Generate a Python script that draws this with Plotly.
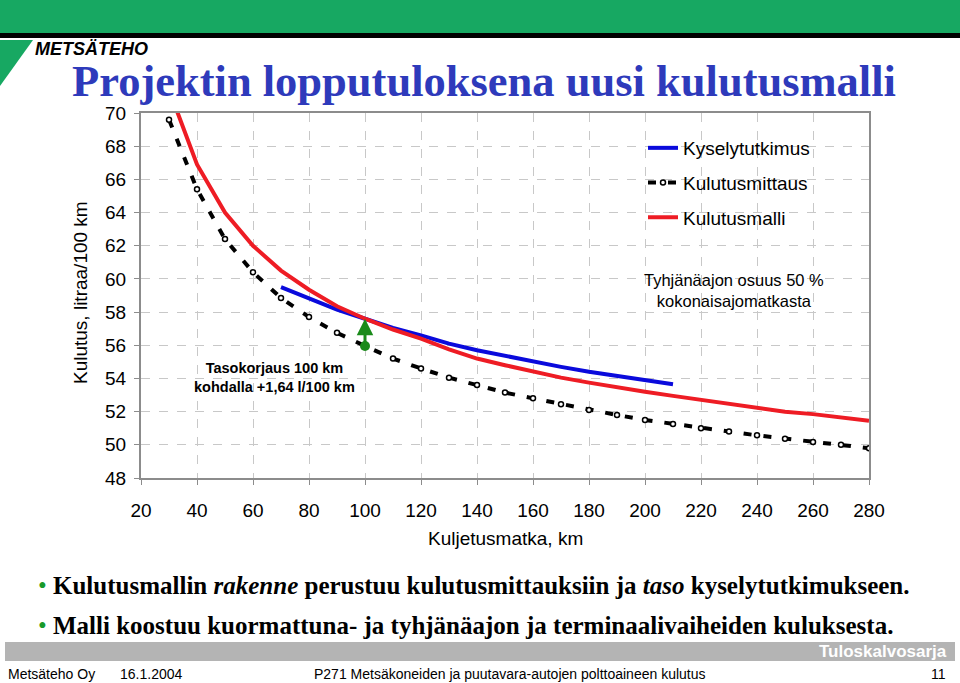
import plotly.graph_objects as go

# Kuljetusmatka (km) and fuel consumption (l/100 km)
survey_km = [70, 80, 90, 100, 110, 120, 130, 140, 150, 160, 170, 180, 190, 200, 210]
survey_l = [59.5, 58.8, 58.15, 57.6, 57.05, 56.6, 56.1, 55.7, 55.35, 55.05, 54.7, 54.4, 54.15, 53.9, 53.65]

measured_km = [20, 30, 40, 50, 60, 70, 80, 90, 100, 110, 120, 130, 140, 150, 160, 170, 180,
               190, 200, 210, 220, 230, 240, 250, 260, 270, 280]
measured_l = [81.5, 69.6, 65.4, 62.4, 60.4, 58.85, 57.7, 56.75, 55.96, 55.2, 54.6, 54.05, 53.6,
              53.15, 52.8, 52.45, 52.1, 51.8, 51.5, 51.25, 51.0, 50.8, 50.57, 50.37, 50.17, 50.0, 49.8]

model_km = [30, 40, 50, 60, 70, 80, 90, 100, 110, 120, 130, 140, 150, 160, 170, 180, 190,
            200, 210, 220, 230, 240, 250, 260, 270, 280]
model_l = [71.4, 66.9, 64.0, 62.0, 60.5, 59.35, 58.35, 57.6, 56.95, 56.4, 55.75, 55.2, 54.8,
           54.4, 54.05, 53.75, 53.45, 53.2, 52.95, 52.7, 52.45, 52.2, 52.0, 51.85, 51.65, 51.45]

x_ticks = list(range(20, 281, 20))
y_ticks = list(range(48, 71, 2))

# level correction at 100 km
corr_km = 100
corr_from = measured_l[measured_km.index(corr_km)]
corr_to = model_l[model_km.index(corr_km)]

W, H = 960, 683
L, R, T, B = 141, 869, 113, 478


def px_x(x):
    return (x - L) / (R - L)


def px_y(y):
    return (B - y) / (B - T)


fig = go.Figure()

fig.add_trace(go.Scatter(
    x=survey_km, y=survey_l, mode="lines", name="Kyselytutkimus",
    line=dict(color="#0a0adc", width=4), legendgroup="a",
))
fig.add_trace(go.Scatter(
    x=measured_km, y=measured_l, mode="lines+markers", name="Kulutusmittaus",
    line=dict(color="black", width=4, dash="8px,12px"),
    marker=dict(symbol="circle", size=5, color="white", line=dict(color="black", width=1.5)),
    legendgroup="b",
))
fig.add_trace(go.Scatter(
    x=model_km, y=model_l, mode="lines", name="Kulutusmalli",
    line=dict(color="#ee1c24", width=4), legendgroup="c",
))
fig.add_trace(go.Scatter(
    x=[corr_km], y=[corr_from], mode="markers", showlegend=False,
    marker=dict(color="#1a8a1a", size=10),
))

axis_font = dict(family="Liberation Sans, Arial, sans-serif", size=19, color="black")

fig.update_xaxes(
    range=[20, 280], tickvals=x_ticks, showgrid=True, gridcolor="#c8c8c8", griddash="dash",
    gridwidth=1, showline=True, linecolor="#8c8c8c", linewidth=2, mirror=True,
    ticks="outside", ticklen=5, tickcolor="#8c8c8c", tickfont=axis_font,
    ticklabelstandoff=9, zeroline=False,
)
fig.update_yaxes(
    range=[48, 70], tickvals=y_ticks, showgrid=True, gridcolor="#c8c8c8", griddash="dash",
    gridwidth=1, showline=True, linecolor="#8c8c8c", linewidth=2, mirror=True,
    ticks="outside", ticklen=5, tickcolor="#8c8c8c", tickfont=axis_font,
    ticklabelstandoff=4, zeroline=False,
)

serif = "Liberation Serif, Times New Roman, serif"
sans = "Liberation Sans, Arial, sans-serif"
narrow = "Liberation Sans Narrow, Liberation Sans, Arial"

annotations = [
    # axis titles
    dict(x=px_x(505), y=px_y(538), text="Kuljetusmatka, km", font=axis_font),
    dict(x=px_x(80), y=px_y(293), text="Kulutus, litraa/100 km", textangle=-90, font=axis_font),
    # notes
    dict(x=px_x(734), y=px_y(290), text="Tyhjänäajon osuus 50 %<br>kokonaisajomatkasta",
         font=dict(family=sans, size=16.5, color="black")),
    dict(x=px_x(274), y=px_y(377), text="<b>Tasokorjaus 100 km<br>kohdalla +1,64 l/100 km</b>",
         font=dict(family=sans, size=14.5, color="black")),
    # title
    dict(x=px_x(484), y=px_y(81), text="<b>Projektin lopputuloksena uusi kulutusmalli</b>",
         font=dict(family=serif, size=44.5, color="#2e3abb")),
    # logo text
    dict(x=px_x(33), y=px_y(49), xanchor="left", text="<b><i>METSÄTEHO</i></b>",
         font=dict(family=sans, size=18, color="black")),
    # bullets
    dict(x=px_x(36), y=px_y(585), xanchor="left",
         text="<span style='color:#1a9a2a'>•</span> <b>Kulutusmallin <i>rakenne</i> perustuu "
              "kulutusmittauksiin ja <i>taso</i> kyselytutkimukseen.</b>",
         font=dict(family=serif, size=25, color="black")),
    dict(x=px_x(36), y=px_y(625), xanchor="left",
         text="<span style='color:#1a9a2a'>•</span> <b>Malli koostuu kuormattuna- ja tyhjänäajon "
              "ja terminaalivaiheiden kuluksesta.</b>",
         font=dict(family=serif, size=25, color="black")),
    # footer
    dict(x=px_x(949), y=px_y(651), xanchor="right", text="<b>Tuloskalvosarja</b>",
         font=dict(family=narrow, size=17, color="white")),
    dict(x=px_x(6), y=px_y(674), xanchor="left", text="Metsäteho Oy",
         font=dict(family=narrow, size=14, color="black")),
    dict(x=px_x(118), y=px_y(674), xanchor="left", text="16.1.2004",
         font=dict(family=narrow, size=14, color="black")),
    dict(x=px_x(312), y=px_y(674), xanchor="left",
         text="P271 Metsäkoneiden ja puutavara-autojen polttoaineen kulutus",
         font=dict(family=narrow, size=14, color="black")),
    dict(x=px_x(948), y=px_y(674), xanchor="right", text="11",
         font=dict(family=narrow, size=14, color="black")),
]
for a in annotations:
    a.setdefault("xref", "paper")
    a.setdefault("yref", "paper")
    a.setdefault("xanchor", "center")
    a.setdefault("yanchor", "middle")
    a["showarrow"] = False
    fig.add_annotation(**a)

# green correction arrow
fig.add_annotation(
    x=corr_km, y=corr_to, ax=corr_km, ay=corr_from, xref="x", yref="y", axref="x", ayref="y",
    showarrow=True, arrowhead=2, arrowsize=1.1, arrowwidth=3, arrowcolor="#1a8a1a", text="",
)

shapes = [
    # top green band and black rule
    dict(type="rect", x0=px_x(0), x1=px_x(W), y0=px_y(0), y1=px_y(33), fillcolor="#17a862", line_width=0),
    dict(type="rect", x0=px_x(0), x1=px_x(W), y0=px_y(33), y1=px_y(38), fillcolor="black", line_width=0),
    # logo triangle
    dict(type="path", path=f"M {px_x(0)} {px_y(40)} L {px_x(33)} {px_y(40)} L {px_x(0)} {px_y(86)} Z",
         fillcolor="#17a862", line_width=0),
    # footer bar
    dict(type="rect", x0=px_x(5), x1=px_x(955), y0=px_y(642), y1=px_y(661), fillcolor="#b4b4b4", line_width=0),
]
for s in shapes:
    s["xref"] = "paper"
    s["yref"] = "paper"
    s["layer"] = "below"
    fig.add_shape(**s)

fig.update_layout(
    width=W, height=H,
    margin=dict(l=L, r=W - R, t=T, b=H - B),
    paper_bgcolor="white", plot_bgcolor="white",
    showlegend=True,
    legend=dict(
        x=px_x(643), y=px_y(129), xanchor="left", yanchor="top",
        bgcolor="rgba(0,0,0,0)", font=dict(family=sans, size=19, color="black"),
        tracegroupgap=7, itemwidth=30,
    ),
)

fig.write_html("out.html", config={"displayModeBar": False},
               post_script="document.body.style.margin='0';")
